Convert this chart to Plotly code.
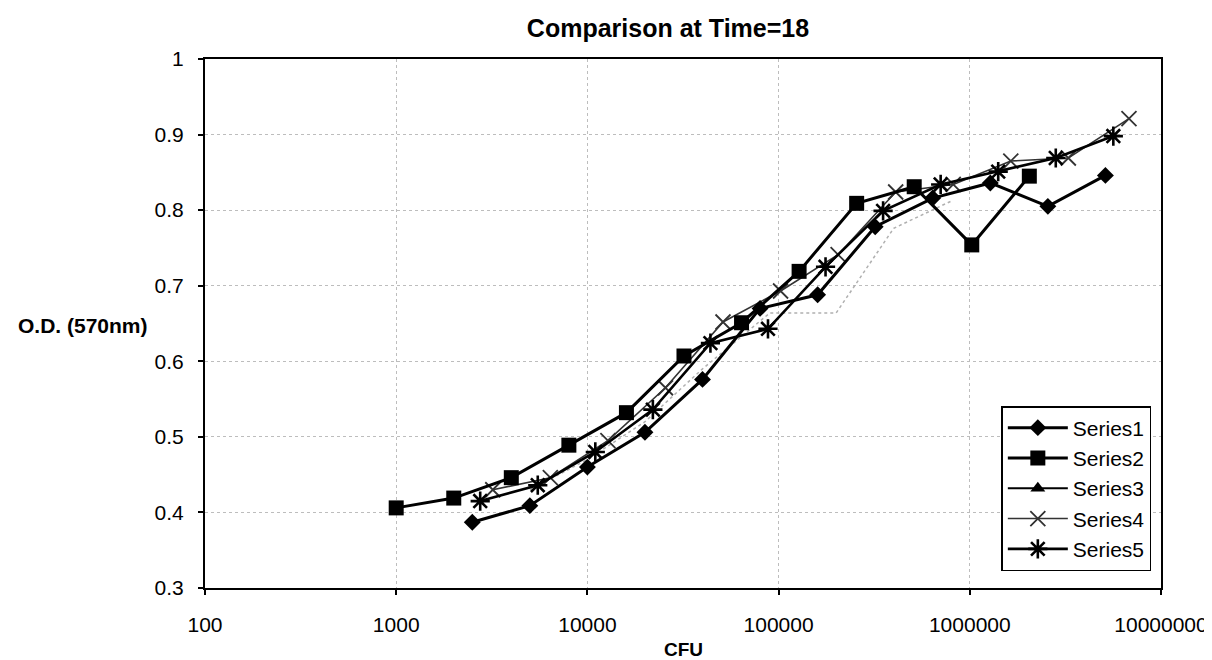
import plotly.graph_objects as go

# ---- data ----
series1_x = [2500, 5000, 10000, 20000, 40000, 80000, 160000, 320000, 640000, 1280000, 2560000, 5120000]
series1_y = [0.387, 0.409, 0.460, 0.506, 0.576, 0.670, 0.688, 0.778, 0.816, 0.836, 0.805, 0.846]

series2_x = [1000, 2000, 4000, 8000, 16000, 32000, 64000, 128000, 256000, 512000, 1024000, 2048000]
series2_y = [0.406, 0.419, 0.446, 0.489, 0.532, 0.607, 0.651, 0.719, 0.809, 0.831, 0.754, 0.845]

series3_x = [5000, 10000, 20000, 40000, 90000, 200000, 400000, 800000]
series3_y = [0.430, 0.470, 0.520, 0.590, 0.664, 0.664, 0.776, 0.812]

series4_x = [3200, 6400, 12800, 25600, 51200, 102400, 204800, 409600, 819200, 1638400, 3276800, 6800000]
series4_y = [0.430, 0.446, 0.495, 0.565, 0.652, 0.693, 0.741, 0.824, 0.834, 0.865, 0.869, 0.921]

series5_x = [2750, 5500, 11000, 22000, 44000, 88000, 176000, 352000, 704000, 1408000, 2816000, 5632000]
series5_y = [0.415, 0.436, 0.480, 0.536, 0.624, 0.643, 0.725, 0.799, 0.834, 0.851, 0.869, 0.898]

x_ticks = [100, 1000, 10000, 100000, 1000000, 10000000]
x_ticktext = ["100", "1000", "10000", "100000", "1000000", "10000000"]
y_ticks = [0.3, 0.4, 0.5, 0.6, 0.7, 0.8, 0.9, 1.0]
y_ticktext = ["0.3", "0.4", "0.5", "0.6", "0.7", "0.8", "0.9", "1"]

FONT = "Liberation Sans, Arial, sans-serif"

fig = go.Figure()

# Series3 drawn faint (as in the scan), legend entry shown in black
fig.add_trace(go.Scatter(
    x=series3_x, y=series3_y, mode="lines", name="Series3",
    line=dict(color="#b0b0b0", width=1.5, dash="dot"),
    showlegend=False, legendgroup="s3"))

fig.add_trace(go.Scatter(
    x=series4_x, y=series4_y, mode="lines+markers", name="Series4",
    line=dict(color="#333333", width=1.6),
    marker=dict(symbol="x-thin-open", size=15, line=dict(color="#333333", width=1.8)),
    legendgroup="s4", legendrank=4))

fig.add_trace(go.Scatter(
    x=series2_x, y=series2_y, mode="lines+markers", name="Series2",
    line=dict(color="black", width=3),
    marker=dict(symbol="square", size=15, color="black"),
    legendgroup="s2", legendrank=2))

fig.add_trace(go.Scatter(
    x=series1_x, y=series1_y, mode="lines+markers", name="Series1",
    line=dict(color="black", width=3),
    marker=dict(symbol="diamond", size=13, color="black"),
    legendgroup="s1", legendrank=1))

fig.add_trace(go.Scatter(
    x=series5_x, y=series5_y, mode="lines+markers", name="Series5",
    line=dict(color="black", width=2.6),
    marker=dict(symbol="asterisk-open", size=16, line=dict(color="black", width=2.6)),
    legendgroup="s5", legendrank=5))

# legend entry for Series3
fig.add_trace(go.Scatter(
    x=[None], y=[None], mode="lines+markers", name="Series3",
    line=dict(color="black", width=2),
    marker=dict(symbol="triangle-up", size=13, color="black"),
    legendgroup="s3", legendrank=3))

axis_common = dict(
    showline=True, linecolor="black", linewidth=2, mirror=True,
    ticks="outside", ticklen=5, tickwidth=1.5, tickcolor="black",
    tickfont=dict(family=FONT, size=21, color="black"),
    showgrid=True, gridcolor="#bdbdbd", gridwidth=1, griddash="dot",
    zeroline=False,
)

fig.update_layout(
    width=1212, height=660,
    margin=dict(l=197, r=57, t=51, b=80),
    paper_bgcolor="white", plot_bgcolor="white",
    font=dict(family=FONT, color="black"),
    title=dict(text="<b>Comparison at Time=18</b>", x=660/1212, xanchor="center",
               y=1 - 20/660, yanchor="middle", yref="container",
               font=dict(family=FONT, size=25, color="black")),
    xaxis=dict(type="log", range=[2, 7], tickvals=x_ticks, ticktext=x_ticktext,
               ticklabelstandoff=12, **axis_common),
    yaxis=dict(range=[0.3, 1.0], tickvals=y_ticks, ticktext=y_ticktext,
               ticklabelstandoff=10, **axis_common),
    legend=dict(x=(995 - 197) / 958, y=(580 - 398) / 529, xanchor="left", yanchor="top",
                bordercolor="black", borderwidth=1.5, bgcolor="white",
                font=dict(family=FONT, size=21, color="black"),
                tracegroupgap=16, itemwidth=60, traceorder="normal"),
    showlegend=True,
    annotations=[
        dict(text="<b>O.D. (570nm)</b>", xref="paper", yref="paper",
             x=(75 - 197) / 958, y=(580 - 318) / 529, xanchor="center", yanchor="middle",
             showarrow=False, font=dict(family=FONT, size=21, color="black")),
        dict(text="<b>CFU</b>", xref="paper", yref="paper",
             x=(676 - 197) / 958, y=-(641 - 580) / 529, xanchor="center", yanchor="middle",
             showarrow=False, font=dict(family=FONT, size=19, color="black")),
    ],
)

fig.write_html("out.html")
